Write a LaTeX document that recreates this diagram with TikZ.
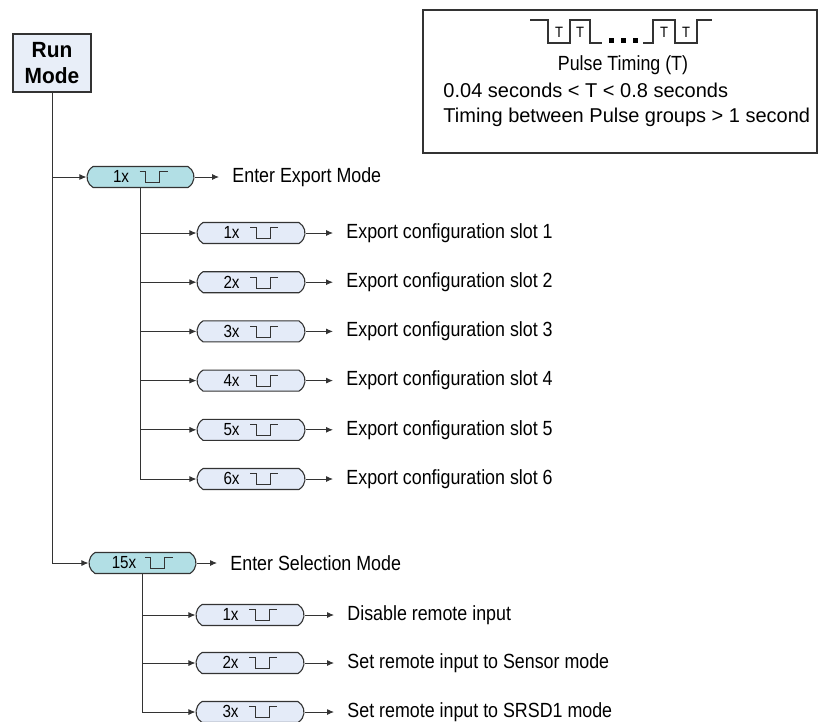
\documentclass[tikz,border=0pt]{standalone}
\usepackage{fontspec}
\setmainfont{Liberation Sans}[FakeStretch=0.87]
\newfontfamily\boxfont{Liberation Sans}
\newfontfamily\runfont{Liberation Sans}[FakeStretch=0.95]
\usetikzlibrary{arrows.meta,shapes.misc}

\definecolor{linegray}{HTML}{333333}
\definecolor{runfill}{HTML}{E8EEF8}
\definecolor{mainfill}{HTML}{B2DFE5}
\definecolor{subfill}{HTML}{E4EBF8}

% small pulse symbol used inside the pills
\newcommand{\pulsesym}{\tikz[x=1pt,y=1pt,baseline=0pt,line width=0.9pt]
  \draw[linegray] (0,11) -- (6,11) -- (6,0) -- (20,0) -- (20,11) -- (28,11);}

\begin{document}
\begin{tikzpicture}[x=1pt,y=-1pt,
    line width=0.9pt,
    runbox/.style = {draw=linegray,
        line width=2.6pt,
        fill=runfill,
        minimum width=78pt,
        minimum height=58pt,
        align=center,
        font=\runfont\fontsize{22}{26}\selectfont\bfseries},
    mainpill/.style = {rounded rectangle,
        rounded rectangle arc length=120,
        draw=linegray,
        line width=1.1pt,
        fill=mainfill,
        minimum width=107pt,
        minimum height=21pt,
        inner sep=0pt,
        font=\fontsize{17.5}{18}\selectfont},
    subpill/.style = {mainpill,
        fill=subfill,
        minimum width=108pt},
    action/.style = {anchor=west,
        inner xsep=13pt,
        inner ysep=0pt,
        font=\fontsize{20.5}{22}\selectfont},
    conn/.style = {draw=linegray,
        -{Latex[length=7pt,width=6pt]}}]

\useasboundingbox (0,0) rectangle (818,721);

% Run Mode
\node[runbox] (run) at (52,63) {Run\\Mode};

% Export branch
\node[mainpill] (exp) at (140.5,177) {1x\hspace{10pt}\pulsesym};
\node[action] (lexp) at (219,177) {Enter Export Mode};
\draw[conn] (run.south) |- (exp.west);
\draw[conn] (exp.east) -- (lexp.west);

\foreach \i in {1,...,6} {
    \node[subpill] (e\i) at (251,{233+49.2*(\i-1)}) {\i x\hspace{10pt}\pulsesym};
    \node[action] (le\i) at (333,{233+49.2*(\i-1)}) {Export configuration slot \i};
    \draw[conn] (exp.south) |- (e\i.west);
    \draw[conn] (e\i.east) -- (le\i.west);
}

% Selection branch
\node[mainpill] (sel) at (142.5,563) {15x\hspace{8pt}\pulsesym};
\node[action] (lsel) at (217,563) {Enter Selection Mode};
\draw[conn] (run.south) |- (sel.west);
\draw[conn] (sel.east) -- (lsel.west);

\node[subpill] (s1) at (250,615) {1x\hspace{10pt}\pulsesym};
\node[action] (ls1) at (334,615) {Disable remote input};
\node[subpill] (s2) at (250,663) {2x\hspace{10pt}\pulsesym};
\node[action] (ls2) at (334,663) {Set remote input to Sensor mode};
\node[subpill] (s3) at (250,712) {3x\hspace{10pt}\pulsesym};
\node[action] (ls3) at (334,712) {Set remote input to SRSD1 mode};
\foreach \s in {s1,s2,s3} {
    \draw[conn] (sel.south) |- (\s.west);
    \draw[conn] (\s.east) -- (l\s.west);
}

% Pulse timing legend
\node[draw=linegray,line width=1.6pt,minimum width=394pt,minimum height=143pt,
    inner sep=0pt] (legend) at (620,81.5) {};
\draw[linegray,line width=1.3pt] (530,20) -- (548,20) -- (548,43) -- (570,43)
    -- (570,20) -- (590,20) -- (590,43) -- (602,43);
\draw[linegray,line width=1.3pt] (643,43) -- (653,43) -- (653,20) -- (675,20)
    -- (675,43) -- (697,43) -- (697,20) -- (712,20);
\foreach \x in {611,623,635}
    \fill[black] (\x-2.5,37.5) rectangle (\x+2.5,42.5);
\foreach \x/\n in {559/t1,580/t2,664/t3,686/t4}
    \node[font=\fontsize{15}{15}\selectfont,inner sep=0pt] (\n) at (\x,32) {T};
\node[font=\fontsize{20.5}{22}\selectfont,anchor=north] (ptitle) at (623,52) {Pulse Timing (T)};
\node[font=\boxfont\fontsize{20}{22}\selectfont,anchor=west,inner sep=0pt] (prange) at (443,90) {0.04 seconds < T < 0.8 seconds};
\node[font=\boxfont\fontsize{20}{22}\selectfont,anchor=west,inner sep=0pt] (pgap) at (443,117) {Timing between Pulse groups > 1 second};
\end{tikzpicture}
\end{document}
